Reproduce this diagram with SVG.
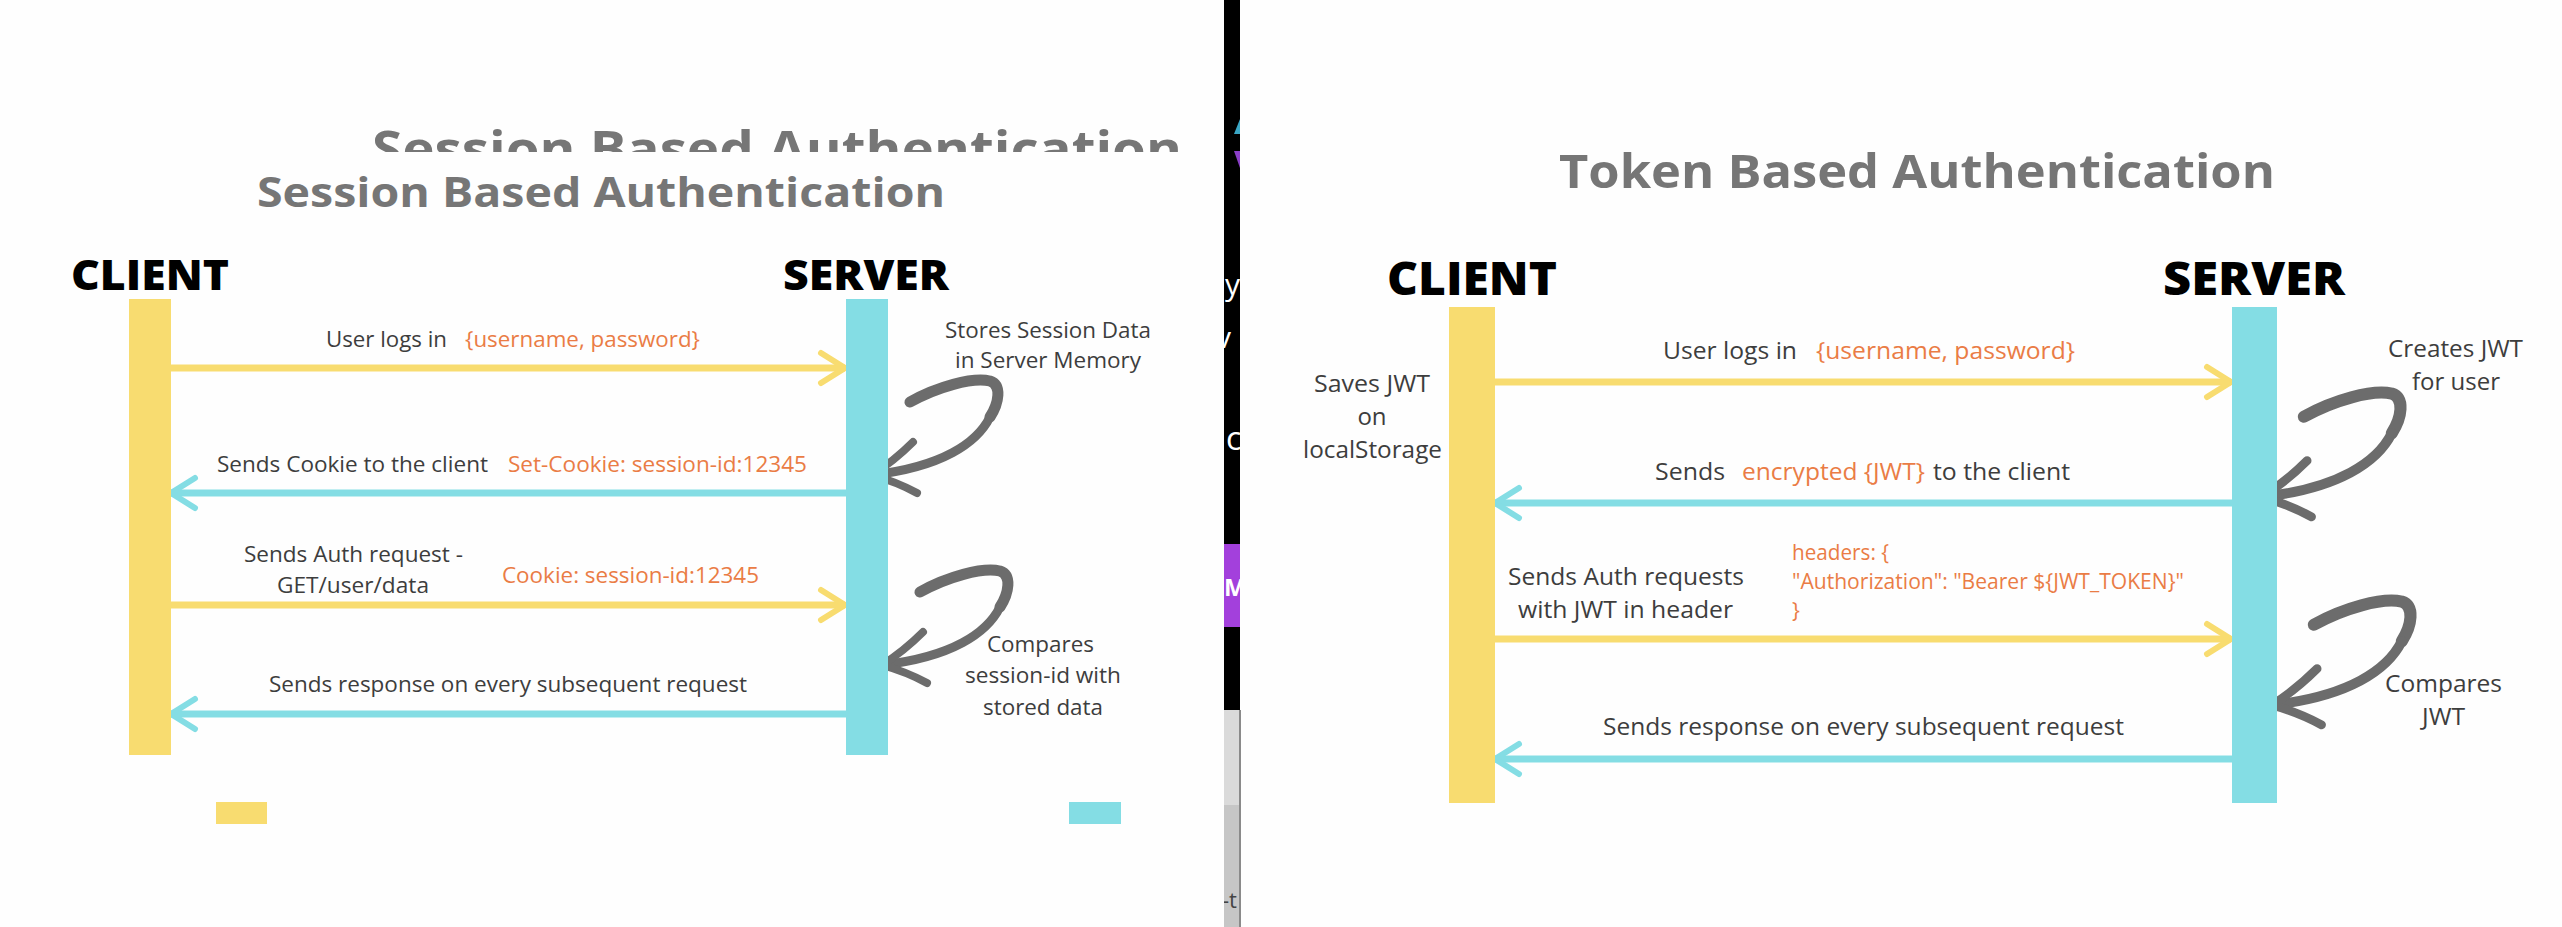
<svg xmlns="http://www.w3.org/2000/svg" xmlns:xlink="http://www.w3.org/1999/xlink" width="2562" height="927" viewBox="0 0 2562 927">
<style>
text{font-family:"Open Sans","Liberation Sans",sans-serif}
.tx{fill:#3d3d3d}
.L{font-size:22px}
.R{font-size:24px}
.or{fill:#ea7c45}
.ttl{font-weight:700;fill:#767676}
.hd{font-weight:800;fill:#000}
.ly{stroke:#f8dc70;stroke-width:7;fill:none}
.lc{stroke:#84dde4;stroke-width:7;fill:none}
.bary{fill:#f8dc70}
.barc{fill:#84dde4}
.curl{stroke:#6c6c6c;fill:none;stroke-linecap:round;stroke-linejoin:round}
</style>
<defs>
<marker id="hy" markerUnits="userSpaceOnUse" viewBox="-30 -20 34 40" markerWidth="34" markerHeight="40" refX="0" refY="0" orient="auto">
<path d="M-24,-15 L0,0 L-24,15" fill="none" stroke="#f8dc70" stroke-width="6" stroke-linejoin="round" stroke-linecap="round"/>
</marker>
<marker id="hc" markerUnits="userSpaceOnUse" viewBox="-30 -20 34 40" markerWidth="34" markerHeight="40" refX="0" refY="0" orient="auto">
<path d="M-24,-15 L0,0 L-24,15" fill="none" stroke="#84dde4" stroke-width="6" stroke-linejoin="round" stroke-linecap="round"/>
</marker>
<g id="curl">
<path class="curl" stroke-width="11" d="M38,-73 C65,-88 100,-98 118,-94 C130,-90 127,-72 118,-58"/>
<path class="curl" stroke-width="9" d="M118,-58 C105,-32 70,-8 0,0"/>
<path class="curl" stroke-width="8" d="M41,-33 Q22,-14 0,0 Q25,7 45,18"/>
</g>
<clipPath id="ghostClip"><rect x="0" y="0" width="1222" height="152"/></clipPath>
<clipPath id="stripClip"><rect x="1224" y="0" width="16" height="927"/></clipPath>
</defs>

<rect x="0" y="0" width="2562" height="927" fill="#fefefe"/>

<!-- middle strip -->
<g id="strip">
<rect x="1224" y="0" width="16" height="710" fill="#000"/>
<rect x="1224" y="710" width="16" height="95" fill="#dadada"/>
<rect x="1224" y="805" width="16" height="122" fill="#c6c6c6"/>
<rect x="1239" y="710" width="2" height="217" fill="#8a8a8a"/>
<polygon points="1240,119 1234,134 1240,134" fill="#3aa6c4"/>
<polygon points="1234,151 1240,151 1240,168" fill="#8a3fc8"/>
<rect x="1224" y="544" width="16" height="83" fill="#a340dc"/>
<g clip-path="url(#stripClip)">
<text x="1225" y="295" font-size="30" fill="#fff">y</text>
<text x="1216" y="348" font-size="30" fill="#fff">v</text>
<text x="1226" y="450" font-size="32" fill="#fff">c</text>
<text x="1224" y="596" font-size="24" font-weight="700" fill="#fff">M</text>
<text x="1222" y="908" font-size="22" fill="#444">-t</text>
</g>
</g>

<!-- LEFT PANEL -->
<g id="left-titles">
<text class="ttl" x="372" y="167" font-size="50" textLength="810" lengthAdjust="spacingAndGlyphs" clip-path="url(#ghostClip)">Session Based Authentication</text>
<text class="ttl" x="257" y="207" font-size="42" textLength="688" lengthAdjust="spacingAndGlyphs">Session Based Authentication</text>
</g>

<g id="connectors-left">
<line class="ly" x1="171" y1="368" x2="845" y2="368" marker-end="url(#hy)"/>
<line class="lc" x1="846" y1="493" x2="171" y2="493" marker-end="url(#hc)"/>
<line class="ly" x1="171" y1="605" x2="845" y2="605" marker-end="url(#hy)"/>
<line class="lc" x1="846" y1="714" x2="171" y2="714" marker-end="url(#hc)"/>
<use xlink:href="#curl" transform="translate(872,475)"/>
<use xlink:href="#curl" transform="translate(882,665)"/>
</g>

<g id="left-client">
<text class="hd" x="71" y="290" font-size="42" textLength="158" lengthAdjust="spacingAndGlyphs">CLIENT</text>
<rect class="bary" x="129" y="299" width="42" height="456"/>
</g>
<g id="left-server">
<text class="hd" x="783" y="290" font-size="42" textLength="166" lengthAdjust="spacingAndGlyphs">SERVER</text>
<rect class="barc" x="846" y="299" width="42" height="456"/>
</g>

<g id="left-labels" class="L">
<text class="tx" x="326" y="347" textLength="121" lengthAdjust="spacingAndGlyphs">User logs in</text>
<text class="or" x="465" y="347" textLength="235" lengthAdjust="spacingAndGlyphs">{username, password}</text>
<text class="tx" x="945" y="338" textLength="206" lengthAdjust="spacingAndGlyphs">Stores Session Data</text>
<text class="tx" x="955" y="368" textLength="186" lengthAdjust="spacingAndGlyphs">in Server Memory</text>
<text class="tx" x="217" y="472" textLength="271" lengthAdjust="spacingAndGlyphs">Sends Cookie to the client</text>
<text class="or" x="508" y="472" textLength="299" lengthAdjust="spacingAndGlyphs">Set-Cookie: session-id:12345</text>
<text class="tx" x="244" y="562" textLength="219" lengthAdjust="spacingAndGlyphs">Sends Auth request -</text>
<text class="tx" x="277" y="593" textLength="152" lengthAdjust="spacingAndGlyphs">GET/user/data</text>
<text class="or" x="502" y="583" textLength="257" lengthAdjust="spacingAndGlyphs">Cookie: session-id:12345</text>
<text class="tx" x="987" y="652" textLength="107" lengthAdjust="spacingAndGlyphs">Compares</text>
<text class="tx" x="965" y="683" textLength="156" lengthAdjust="spacingAndGlyphs">session-id with</text>
<text class="tx" x="983" y="715" textLength="120" lengthAdjust="spacingAndGlyphs">stored data</text>
<text class="tx" x="269" y="692" textLength="478" lengthAdjust="spacingAndGlyphs">Sends response on every subsequent request</text>
</g>

<g id="left-legend">
<rect class="bary" x="216" y="802" width="51" height="22"/>
<rect class="barc" x="1069" y="802" width="52" height="22"/>
</g>

<!-- RIGHT PANEL -->
<g id="right-title">
<text class="ttl" x="1559" y="188" font-size="46" textLength="716" lengthAdjust="spacingAndGlyphs">Token Based Authentication</text>
</g>

<g id="connectors-right">
<line class="ly" x1="1495" y1="382" x2="2231" y2="382" marker-end="url(#hy)"/>
<line class="lc" x1="2232" y1="503" x2="1495" y2="503" marker-end="url(#hc)"/>
<line class="ly" x1="1495" y1="639" x2="2231" y2="639" marker-end="url(#hy)"/>
<line class="lc" x1="2232" y1="759" x2="1495" y2="759" marker-end="url(#hc)"/>
<use xlink:href="#curl" transform="translate(2262,497) scale(1.1)"/>
<use xlink:href="#curl" transform="translate(2272,705) scale(1.1)"/>
</g>

<g id="right-client">
<text class="hd" x="1387" y="295" font-size="46" textLength="170" lengthAdjust="spacingAndGlyphs">CLIENT</text>
<rect class="bary" x="1449" y="307" width="46" height="496"/>
</g>
<g id="right-server">
<text class="hd" x="2163" y="295" font-size="46" textLength="182" lengthAdjust="spacingAndGlyphs">SERVER</text>
<rect class="barc" x="2232" y="307" width="45" height="496"/>
</g>

<g id="right-labels" class="R">
<text class="tx" x="1314" y="392" textLength="116" lengthAdjust="spacingAndGlyphs">Saves JWT</text>
<text class="tx" x="1372" y="425" text-anchor="middle">on</text>
<text class="tx" x="1303" y="458" textLength="139" lengthAdjust="spacingAndGlyphs">localStorage</text>
<text class="tx" x="1663" y="359" textLength="134" lengthAdjust="spacingAndGlyphs">User logs in</text>
<text class="or" x="1816" y="359" textLength="259" lengthAdjust="spacingAndGlyphs">{username, password}</text>
<text class="tx" x="2388" y="357" textLength="135" lengthAdjust="spacingAndGlyphs">Creates JWT</text>
<text class="tx" x="2412" y="390" textLength="88" lengthAdjust="spacingAndGlyphs">for user</text>
<text class="tx" x="1655" y="480" textLength="70" lengthAdjust="spacingAndGlyphs">Sends</text>
<text class="or" x="1742" y="480" textLength="183" lengthAdjust="spacingAndGlyphs">encrypted {JWT}</text>
<text class="tx" x="1933" y="480" textLength="137" lengthAdjust="spacingAndGlyphs">to the client</text>
<text class="or" x="1792" y="560" font-size="21" textLength="97" lengthAdjust="spacingAndGlyphs">headers: {</text>
<text class="or" x="1792" y="589" font-size="21" textLength="392" lengthAdjust="spacingAndGlyphs">"Authorization": "Bearer ${JWT_TOKEN}"</text>
<text class="or" x="1792" y="618" font-size="21">}</text>
<text class="tx" x="1508" y="585" textLength="236" lengthAdjust="spacingAndGlyphs">Sends Auth requests</text>
<text class="tx" x="1518" y="618" textLength="215" lengthAdjust="spacingAndGlyphs">with JWT in header</text>
<text class="tx" x="2385" y="692" textLength="117" lengthAdjust="spacingAndGlyphs">Compares</text>
<text class="tx" x="2422" y="725" textLength="43" lengthAdjust="spacingAndGlyphs">JWT</text>
<text class="tx" x="1603" y="735" textLength="521" lengthAdjust="spacingAndGlyphs">Sends response on every subsequent request</text>
</g>
</svg>
